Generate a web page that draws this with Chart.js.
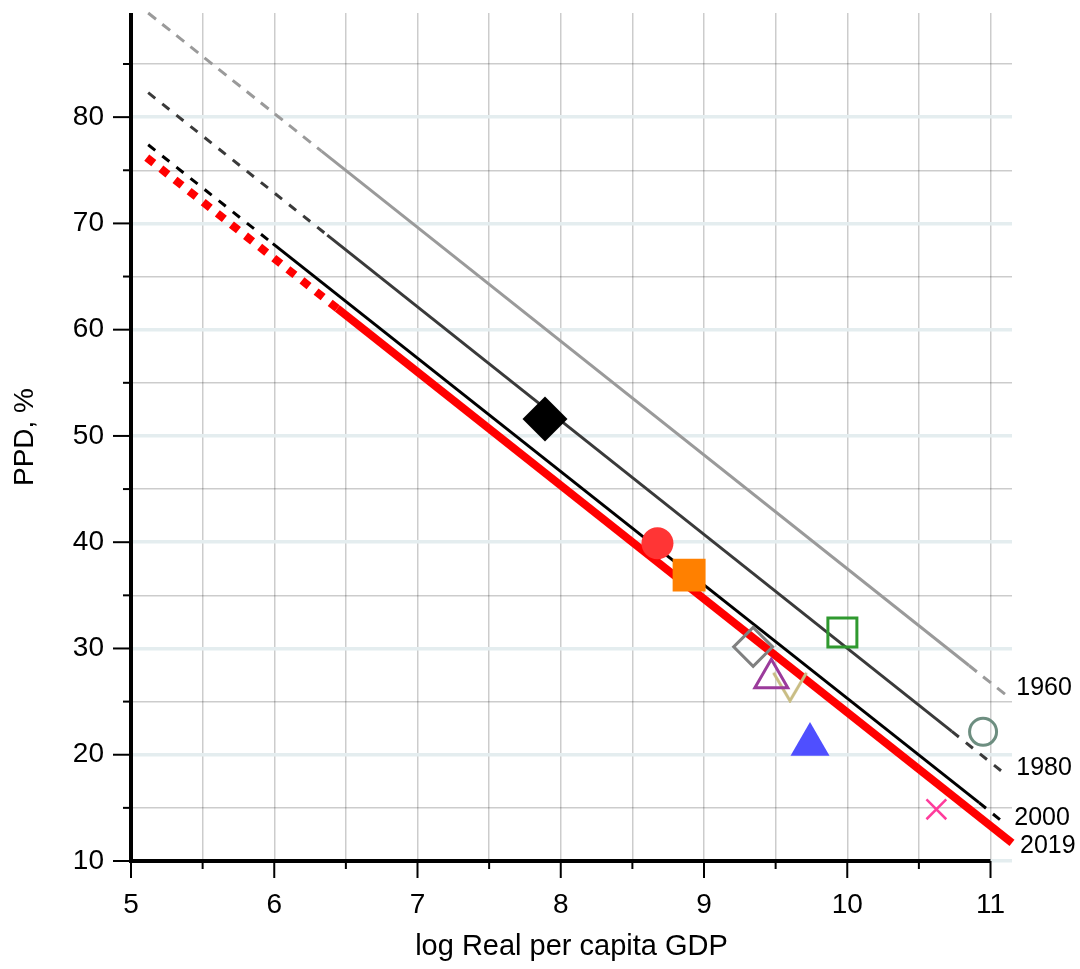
<!DOCTYPE html>
<html><head><meta charset="utf-8">
<script src="https://cdn.jsdelivr.net/npm/chart.js@4.4.1/dist/chart.umd.min.js"></script>
<style>html,body{margin:0;padding:0;background:#fff}#wrap{width:1080px;height:969px}</style>
</head><body><div id="wrap"><canvas id="c" width="1080" height="969"></canvas></div>
<script>
// ---------- data ----------
const xTickValues = [5, 5.5, 6, 6.5, 7, 7.5, 8, 8.5, 9, 9.5, 10, 10.5, 11];
const yTickValues = [10, 15, 20, 25, 30, 35, 40, 45, 50, 55, 60, 65, 70, 75, 80, 85];

const lineYears = ['1960', '1980', '2000', '2019'];
// fitted lines: [start, dashed->solid, solid->dashed, end]
const line1960X = [5.12, 6.33, 10.85, 11.11];
const line1960Y = [89.8, 76.8, 28.4, 25.6];
const line1980X = [5.12, 6.37, 10.73, 11.11];
const line1980Y = [82.3, 68.9, 22.2, 18.1];
const line2000X = [5.12, 5.99, 10.92, 11.11];
const line2000Y = [77.4, 68.1, 15.5, 13.4];
const line2019X = [5.11, 6.44, 11.15];
const line2019Y = [76.2, 62.0, 11.7];

const markerX = [7.89, 8.675, 8.896, 9.343, 9.47, 9.6, 9.74, 9.966, 10.948, 10.622];
const markerY = [51.6, 39.9, 36.9, 30.15, 27.2, 26.4, 20.96, 31.5, 22.16, 14.86];

// ---------- styles ----------
const FONT = "'Liberation Sans', Arial, Helvetica, sans-serif";
const vMark = document.createElement('canvas');
vMark.width = 38; vMark.height = 32;
(function(){
  const g = vMark.getContext('2d');
  g.strokeStyle = '#c9bd84'; g.lineWidth = 3; g.lineJoin = 'miter';
  g.beginPath(); g.moveTo(2.5, 2); g.lineTo(19, 30); g.lineTo(35.5, 2); g.stroke();
})();

const markerStyles = [
  {style:'rectRot', r:22.5, fill:'#000000', stroke:'#000000', bw:0},
  {style:'circle', r:16, fill:'#ff3535', stroke:'#ff3535', bw:0},
  {style:'rect', r:23.3, fill:'#ff8000', stroke:'#ff8000', bw:0},
  {style:'rectRot', r:19.5, fill:'rgba(0,0,0,0)', stroke:'#808080', bw:3},
  {style:'triangle', r:19, fill:'rgba(0,0,0,0)', stroke:'#9b3b9b', bw:3},
  {style:vMark, r:16, fill:'rgba(0,0,0,0)', stroke:'#c9bd84', bw:0},
  {style:'triangle', r:22.5, fill:'#4f4fff', stroke:'#4f4fff', bw:0},
  {style:'rect', r:20.5, fill:'rgba(0,0,0,0)', stroke:'#2f992f', bw:3},
  {style:'circle', r:13.5, fill:'rgba(0,0,0,0)', stroke:'#6d8e80', bw:3},
  {style:'crossRot', r:14, fill:'#ff3c9c', stroke:'#ff3c9c', bw:2.5}
];

const lineStyles = {
  '1960': {color:'#9a9a9a', width:3, dash:[10,8], dashed:[0,2], lab:[10,-7]},
  '1980': {color:'#3a3a3a', width:3, dash:[9,9], dashed:[0,2], lab:[10,-7]},
  '2000': {color:'#000000', width:3, dash:[9,9], dashed:[0,2], lab:[8,-7]},
  '2019': {color:'#ff0000', width:8, dash:[9,9], dashed:[0], lab:[8,3]}
};
const lineXs = [line1960X, line1980X, line2000X, line2019X];
const lineYs = [line1960Y, line1980Y, line2000Y, line2019Y];

const datasets = [];
markerX.forEach((mx, i) => {
  const s = markerStyles[i];
  datasets.push({
    label: 'marker ' + (i + 1),
    data: [{x: mx, y: markerY[i]}],
    pointStyle: s.style, pointRadius: s.r, pointHoverRadius: s.r,
    backgroundColor: s.fill, borderColor: s.stroke, pointBorderWidth: s.bw,
    showLine: false, clip: false, order: 1
  });
});
lineYears.forEach((yr, k) => {
  const st = lineStyles[yr];
  datasets.push({
    label: yr,
    data: lineXs[k].map((v, i) => ({x: v, y: lineYs[k][i]})),
    showLine: true, pointRadius: 0, pointHoverRadius: 0,
    borderColor: st.color, backgroundColor: st.color, borderWidth: st.width,
    borderCapStyle: 'butt', tension: 0, clip: false, order: 2,
    segment: { borderDash: ctx => st.dashed.includes(ctx.p0DataIndex) ? st.dash : [] }
  });
});

const decor = {
  id: 'decor',
  afterDatasetsDraw(chart) {
    const {ctx, scales: {x, y}} = chart;
    ctx.save();
    const x0 = x.getPixelForValue(5), x1 = x.getPixelForValue(11);
    const y0 = y.getPixelForValue(10), yTop = chart.chartArea.top;
    ctx.strokeStyle = '#000'; ctx.lineCap = 'butt';
    // ticks
    ctx.lineWidth = 2;
    xTickValues.forEach(v => {
      const px = x.getPixelForValue(v);
      const len = Number.isInteger(v) ? 17 : 8;
      ctx.beginPath(); ctx.moveTo(px, y0); ctx.lineTo(px, y0 + len); ctx.stroke();
    });
    yTickValues.forEach(v => {
      const py = y.getPixelForValue(v);
      const len = v % 10 === 0 ? 18 : 8;
      ctx.beginPath(); ctx.moveTo(x0, py); ctx.lineTo(x0 - len, py); ctx.stroke();
    });
    // axis lines
    ctx.lineWidth = 4;
    ctx.beginPath(); ctx.moveTo(x0, yTop); ctx.lineTo(x0, y0 + 2); ctx.stroke();
    ctx.beginPath(); ctx.moveTo(x0 - 2, y0); ctx.lineTo(x1, y0); ctx.stroke();
    // year labels at line ends
    ctx.fillStyle = '#000'; ctx.font = "25px " + FONT;
    ctx.textAlign = 'left'; ctx.textBaseline = 'middle';
    lineYears.forEach((yr, k) => {
      const xs = lineXs[k], ys = lineYs[k], st = lineStyles[yr];
      const px = x.getPixelForValue(xs[xs.length - 1]) + st.lab[0];
      const py = y.getPixelForValue(ys[ys.length - 1]) + st.lab[1];
      ctx.fillText(yr, px, py);
    });
    ctx.restore();
  }
};

new Chart(document.getElementById('c'), {
  type: 'scatter',
  data: { datasets },
  options: {
    responsive: false, animation: false, devicePixelRatio: 1, events: [],
    layout: { autoPadding: false, padding: { top: 13, right: 68, left: 0, bottom: 0 } },
    plugins: { legend: { display: false }, tooltip: { enabled: false } },
    scales: {
      x: {
        type: 'linear', min: 5, max: 11.15,
        afterBuildTicks: s => { s.ticks = xTickValues.map(v => ({value: v})); },
        afterFit: s => { s.height = 108; s.paddingLeft = 0; s.paddingRight = 0; },
        border: { display: false },
        grid: { color: 'rgba(0,0,0,0.2)', lineWidth: 1.5, tickLength: 17, tickColor: 'rgba(0,0,0,0)' },
        ticks: { callback: v => Number.isInteger(v) ? String(v) : '', color: '#000', padding: 10,
                 maxRotation: 0, autoSkip: false, font: { family: FONT, size: 28 } },
        title: { display: true, text: 'log Real per capita GDP', color: '#000',
                 font: { family: FONT, size: 29 }, padding: { top: 0, bottom: 5 } }
      },
      y: {
        type: 'linear', min: 10, max: 89.8,
        afterBuildTicks: s => { s.ticks = yTickValues.map(v => ({value: v})); },
        afterFit: s => { s.width = 131; s.paddingTop = 0; s.paddingBottom = 0; },
        border: { display: false },
        grid: {
          color: c => (c.tick && c.tick.value % 10 === 0) ? '#e4edef' : 'rgba(0,0,0,0.2)',
          lineWidth: c => (c.tick && c.tick.value % 10 === 0) ? 3.5 : 1.5,
          tickLength: 18, tickColor: 'rgba(0,0,0,0)'
        },
        ticks: { callback: v => v % 10 === 0 ? String(v) : '', color: '#000', padding: 9,
                 autoSkip: false, font: { family: FONT, size: 28 } },
        title: { display: true, text: 'PPD, %', color: '#000',
                 font: { family: FONT, size: 28 }, padding: { top: 8, bottom: 0 } }
      }
    }
  },
  plugins: [decor]
});
</script></body></html>
